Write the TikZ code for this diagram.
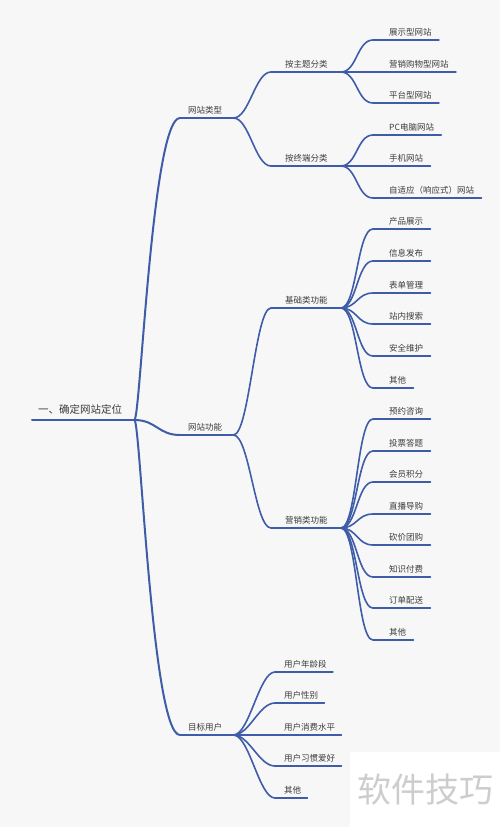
\documentclass[tikz,border=0pt]{standalone}
\usepackage{fontspec}
\setmainfont{Noto Sans CJK SC}
\usetikzlibrary{positioning}
\definecolor{bgcol}{RGB}{247,247,247}
\definecolor{linecol}{RGB}{62,92,168}
\definecolor{textcol}{RGB}{60,60,60}
\definecolor{markcol}{RGB}{205,205,205}
\tikzset{
    stem/.style = {
        draw=linecol,
        line width=1.6pt,
        line cap=round
    },
    link/.style = {
        draw=linecol,
        line width=1.6pt,
        out=0,
        in=180,
        distance=16pt
    },
    topic/.style = {
        anchor=south west,
        inner xsep=0pt,
        inner ysep=3.2pt,
        text height=7.4pt,
        text depth=1.2pt,
        text=textcol,
        font=\fontsize{8.5}{10}\selectfont
    },
    pad/.style 2 args = {
        execute at begin node=\hspace*{#1},
        execute at end node=\hspace*{#2}
    },
}

\begin{document}
\begin{tikzpicture}[x=1pt,y=-1pt]
        \fill[bgcol] (0,0) rectangle (500,827);
        \useasboundingbox (0,0) rectangle (500,827);

        % root and first level
        \node[topic, pad={6pt}{12pt}, inner ysep=4.5pt, text height=9pt, text depth=1.4pt,
              font=\fontsize{10.5}{12}\selectfont] (root) at (32,420) {一、确定网站定位};
        \node[topic, pad={8pt}{11pt}] (type) at (180,118) {网站类型};
        \node[topic, pad={8pt}{11pt}] (func) at (180,435) {网站功能};
        \node[topic, pad={8pt}{11pt}] (user) at (180,735) {目标用户};

        % second level
        \node[topic, pad={14pt}{13pt}] (theme) at (271,72) {按主题分类};
        \node[topic, pad={14pt}{13pt}] (term) at (271,166) {按终端分类};
        \node[topic, pad={14pt}{13pt}] (base) at (271,308) {基础类功能};
        \node[topic, pad={14pt}{13pt}] (market) at (271,528) {营销类功能};

        % website types
        \node[topic, pad={16pt}{7pt}] (show) at (373,40) {展示型网站};
        \node[topic, pad={16pt}{7pt}] (shop) at (373,72) {营销购物型网站};
        \node[topic, pad={16pt}{7pt}] (platform) at (373,103) {平台型网站};
        \node[topic, pad={16pt}{7pt}] (pc) at (373,135) {PC电脑网站};
        \node[topic, pad={16pt}{7pt}] (mobile) at (373,166) {手机网站};
        \node[topic, pad={16pt}{7pt}] (adapt) at (373,198) {自适应（响应式）网站};

        % basic functions
        \node[topic, pad={16pt}{7pt}] (product) at (373,229) {产品展示};
        \node[topic, pad={16pt}{7pt}] (info) at (373,261) {信息发布};
        \node[topic, pad={16pt}{7pt}] (form) at (373,293) {表单管理};
        \node[topic, pad={16pt}{7pt}] (search) at (373,324) {站内搜索};
        \node[topic, pad={16pt}{7pt}] (safe) at (373,356) {安全维护};
        \node[topic, pad={16pt}{7pt}] (otherb) at (373,388) {其他};

        % marketing functions
        \node[topic, pad={16pt}{7pt}] (book) at (373,419) {预约咨询};
        \node[topic, pad={16pt}{7pt}] (vote) at (373,451) {投票答题};
        \node[topic, pad={16pt}{7pt}] (member) at (373,482) {会员积分};
        \node[topic, pad={16pt}{7pt}] (live) at (373,514) {直播导购};
        \node[topic, pad={16pt}{7pt}] (bargain) at (373,545) {砍价团购};
        \node[topic, pad={16pt}{7pt}] (paid) at (373,577) {知识付费};
        \node[topic, pad={16pt}{7pt}] (order) at (373,608) {订单配送};
        \node[topic, pad={16pt}{7pt}] (otherm) at (373,640) {其他};

        % target users
        \node[topic, pad={9pt}{6pt}] (age) at (275,672) {用户年龄段};
        \node[topic, pad={9pt}{6pt}] (gender) at (275,703) {用户性别};
        \node[topic, pad={9pt}{6pt}] (spend) at (275,735) {用户消费水平};
        \node[topic, pad={9pt}{6pt}] (habit) at (275,766) {用户习惯爱好};
        \node[topic, pad={9pt}{6pt}] (otheru) at (275,798) {其他};

        % underlines
        \foreach \n in {theme,term,base,market,show,shop,platform,pc,mobile,adapt,
                        product,info,form,search,safe,otherb,book,vote,member,live,
                        bargain,paid,order,otherm,age,gender,spend,habit,otheru}
            \draw[stem] (\n.south west) -- (\n.south east);
        \foreach \n in {root,type,func,user}
            \draw[stem, line width=2pt] (\n.south west) -- (\n.south east);

        % branches
        \draw[link, line width=2pt, out distance=6pt, in distance=28pt] (root.south east) to (type.south west);
        \draw[link, line width=2pt, distance=22pt] (root.south east) to (func.south west);
        \draw[link, line width=2pt, out distance=6pt, in distance=28pt] (root.south east) to (user.south west);
        \foreach \a/\b in {type/theme,type/term,func/base,func/market,
                           theme/show,theme/shop,theme/platform,term/pc,term/mobile,term/adapt,
                           base/product,base/info,base/form,base/search,base/safe,base/otherb,
                           market/book,market/vote,market/member,market/live,
                           market/bargain,market/paid,market/order,market/otherm,
                           user/age,user/gender,user/spend,user/habit,user/otheru}
            \draw[link] (\a.south east) to (\b.south west);

        % watermark
        \node[fill=white, minimum width=150pt, minimum height=75pt, text=markcol,
              font=\fontsize{34}{36}\selectfont] (mark) at (425,789.5) {软件技巧};
    \end{tikzpicture}
\end{document}
